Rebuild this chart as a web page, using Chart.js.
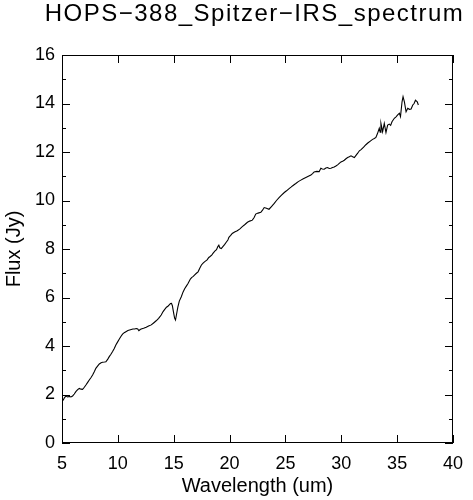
<!DOCTYPE html>
<html lang="en">
<head>
<meta charset="UTF-8">
<title>HOPS-388 Spitzer-IRS spectrum</title>
<script src="https://cdn.jsdelivr.net/npm/chart.js@4.4.0/dist/chart.umd.min.js"></script>
<style>
  body { margin: 0; background: #fff; }
  #box { width: 473px; height: 500px; }
</style>
</head>
<body>
<div id="box"><canvas id="spec" width="473" height="500"></canvas></div>
<script>
// spectrum (wavelength in um, flux in Jy)
var wavelength = [5.1, 5.2, 5.35, 5.5, 5.65, 5.8, 5.95, 6.1, 6.24, 6.4, 6.55, 6.7, 6.84, 7.0, 7.14, 7.3, 7.44, 7.6, 7.74, 7.9,
  8.03, 8.2, 8.34, 8.5, 8.63, 8.8, 8.93, 9.1, 9.23, 9.38, 9.53, 9.68, 9.82, 9.97, 10.12, 10.27, 10.42, 10.57, 10.72, 10.9,
  11.05, 11.2, 11.35, 11.5, 11.65, 11.78, 11.88, 12.0, 12.09, 12.3, 12.54, 12.75, 12.99, 13.2, 13.43, 13.65, 13.88, 14.05, 14.18, 14.35,
  14.48, 14.6, 14.71, 14.8, 14.88, 14.98, 15.08, 15.16, 15.25, 15.37, 15.5, 15.68, 15.83, 15.98, 16.13, 16.28, 16.49, 16.6, 16.75, 16.88,
  17.03, 17.18, 17.32, 17.48, 17.63, 17.78, 17.99, 18.14, 18.23, 18.4, 18.53, 18.7, 18.83, 18.95, 19.04, 19.12, 19.26, 19.4, 19.55, 19.7,
  19.85, 19.94, 20.1, 20.24, 20.45, 20.69, 20.9, 21.14, 21.35, 21.6, 21.8, 22.04, 22.2, 22.34, 22.55, 22.8, 22.95, 23.1, 23.3, 23.53,
  23.75, 24.0, 24.2, 24.43, 24.65, 24.9, 25.1, 25.33, 25.5, 25.63, 25.8, 25.93, 26.15, 26.38, 26.6, 26.83, 27.05, 27.28, 27.45, 27.57,
  27.8, 28.02, 28.17, 28.3, 28.47, 28.62, 28.77, 28.92, 29.07, 29.22, 29.37, 29.52, 29.67, 29.82, 29.97, 30.12, 30.27, 30.42, 30.57, 30.72,
  30.87, 31.02, 31.17, 31.3, 31.47, 31.62, 31.77, 32.0, 32.2, 32.4, 32.6, 32.8, 32.96, 33.1, 33.24, 33.4, 33.48, 33.55, 33.7, 33.85,
  34.0, 34.15, 34.3, 34.42, 34.54, 34.75, 34.9, 35.05, 35.2, 35.3, 35.44, 35.53, 35.65, 35.8, 35.95, 36.1, 36.25, 36.4, 36.52, 36.64,
  36.8, 36.9];
var flux = [1.75, 1.85, 1.94, 1.9, 1.92, 1.9, 1.94, 2.02, 2.12, 2.2, 2.25, 2.22, 2.21, 2.3, 2.39, 2.5, 2.6, 2.7, 2.8, 2.95,
  3.08, 3.18, 3.26, 3.31, 3.33, 3.34, 3.35, 3.46, 3.56, 3.66, 3.77, 3.9, 4.04, 4.16, 4.28, 4.39, 4.49, 4.55, 4.59, 4.64,
  4.66, 4.68, 4.7, 4.7, 4.72, 4.7, 4.63, 4.68, 4.7, 4.73, 4.77, 4.82, 4.87, 4.95, 5.04, 5.14, 5.28, 5.42, 5.5, 5.6,
  5.64, 5.7, 5.75, 5.76, 5.66, 5.4, 5.15, 5.07, 5.3, 5.6, 5.85, 6.03, 6.22, 6.36, 6.47, 6.58, 6.76, 6.82, 6.87, 6.93,
  7.0, 7.06, 7.2, 7.34, 7.42, 7.48, 7.55, 7.65, 7.68, 7.75, 7.83, 7.92, 7.97, 8.1, 8.16, 8.05, 8.02, 8.1, 8.18, 8.28,
  8.37, 8.48, 8.56, 8.64, 8.7, 8.75, 8.82, 8.92, 9.0, 9.1, 9.15, 9.19, 9.3, 9.44, 9.48, 9.51, 9.6, 9.71, 9.68, 9.64,
  9.75, 9.88, 10.0, 10.12, 10.22, 10.33, 10.4, 10.49, 10.55, 10.6, 10.66, 10.7, 10.78, 10.84, 10.9, 10.95, 11.0, 11.05, 11.12, 11.18,
  11.2, 11.19, 11.33, 11.3, 11.29, 11.34, 11.36, 11.32, 11.33, 11.36, 11.38, 11.42, 11.47, 11.53, 11.59, 11.62, 11.66, 11.72, 11.77, 11.8,
  11.84, 11.8, 11.77, 11.85, 11.95, 12.05, 12.1, 12.2, 12.3, 12.38, 12.45, 12.52, 12.56, 12.6, 12.76, 12.98, 12.82, 13.18, 12.84, 13.18,
  12.8, 13.11, 13.15, 13.1, 13.25, 13.39, 13.45, 13.53, 13.6, 13.46, 14.07, 14.28, 14.07, 13.66, 13.8, 13.76, 13.77, 13.94, 14.0, 14.14,
  14.07, 13.94];

var xTicks = [5, 10, 15, 20, 25, 30, 35, 40];
var yTicks = [0, 2, 4, 6, 8, 10, 12, 14, 16];
var yMinorTicks = [1, 3, 5, 7, 9, 11, 13, 15];
var chartTitle = 'HOPS\u2212388_Spitzer\u2212IRS_spectrum';

var points = wavelength.map(function (w, i) { return { x: w, y: flux[i] }; });
var fontName = "'Liberation Sans', Arial, Helvetica, sans-serif";

// frame with inward ticks on all four sides, and the title centred over the plot
var frameTicks = {
  id: 'frameTicks',
  afterDraw: function (chart) {
    var c = chart.ctx, a = chart.chartArea;
    var sx = chart.scales.x, sy = chart.scales.y;
    c.save();
    c.strokeStyle = '#000';
    c.lineWidth = 1;
    c.strokeRect(a.left + 0.5, a.top + 0.5, a.right - a.left - 1, a.bottom - a.top - 1);
    c.beginPath();
    xTicks.forEach(function (v) {
      var px = Math.round(sx.getPixelForValue(v)) + 0.5;
      c.moveTo(px, a.bottom); c.lineTo(px, a.bottom - 8);
      c.moveTo(px, a.top); c.lineTo(px, a.top + 8);
    });
    yTicks.concat(yMinorTicks).forEach(function (v) {
      var py = Math.round(sy.getPixelForValue(v)) + 0.5;
      var len = (v % 2 === 0) ? 8 : 4;
      c.moveTo(a.left, py); c.lineTo(a.left + len, py);
      c.moveTo(a.right, py); c.lineTo(a.right - len, py);
    });
    c.stroke();

    c.fillStyle = '#000';
    c.font = '24px ' + fontName;
    if ('letterSpacing' in c) c.letterSpacing = '1.5px';
    c.textAlign = 'center';
    c.textBaseline = 'alphabetic';
    c.fillText(chartTitle, (a.left + a.right) / 2 - 3, 21);
    c.restore();
  }
};

new Chart(document.getElementById('spec').getContext('2d'), {
  type: 'scatter',
  data: {
    datasets: [{
      data: points,
      showLine: true,
      borderColor: '#000',
      borderWidth: 1.1,
      pointRadius: 0,
      tension: 0
    }]
  },
  options: {
    responsive: false,
    animation: false,
    layout: { padding: { left: 0, right: 19, top: 55, bottom: 0 } },
    plugins: {
      legend: { display: false },
      tooltip: { enabled: false },
      title: { display: false }
    },
    scales: {
      x: {
        type: 'linear',
        min: 5, max: 40,
        afterBuildTicks: function (s) { s.ticks = xTicks.map(function (v) { return { value: v }; }); },
        afterFit: function (s) { s.height = 57; },
        grid: { display: false, drawTicks: false },
        border: { display: false },
        ticks: { color: '#000', padding: 10, maxRotation: 0, font: { family: fontName, size: 18 } },
        title: {
          display: true, text: 'Wavelength (um)', color: '#000',
          font: { family: fontName, size: 20 }, padding: { top: 0, bottom: 2 }
        }
      },
      y: {
        min: 0, max: 16,
        afterBuildTicks: function (s) { s.ticks = yTicks.map(function (v) { return { value: v }; }); },
        afterFit: function (s) { s.width = 62; },
        grid: { display: false, drawTicks: false },
        border: { display: false },
        ticks: { color: '#000', padding: 7, font: { family: fontName, size: 18 } },
        title: {
          display: true, text: 'Flux (Jy)', color: '#000',
          font: { family: fontName, size: 20 }, padding: { top: 2, bottom: 0 }
        }
      }
    }
  },
  plugins: [frameTicks]
});
</script>
</body>
</html>
